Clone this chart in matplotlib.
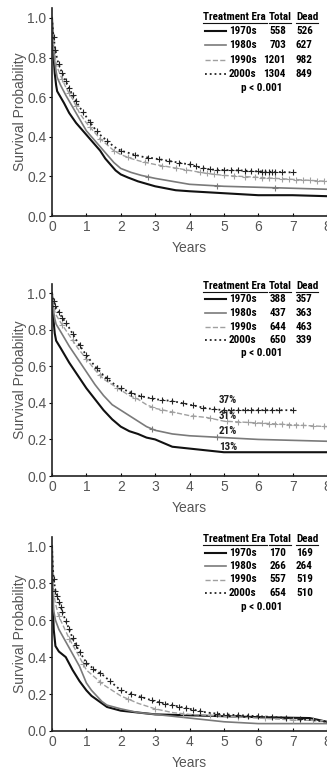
import matplotlib
matplotlib.use("Agg")
import matplotlib.pyplot as plt
from matplotlib.lines import Line2D
import numpy as np

plt.rcParams['font.family'] = ['Liberation Sans', 'DejaVu Sans']

eras = ['1970s', '1980s', '1990s', '2000s']

# ---- panel 1 ----
p1_total = [558, 703, 1201, 1304]
p1_dead = [526, 627, 982, 849]
p1_t = [
    [0, 0.03, 0.08, 0.12, 0.15, 0.25, 0.35, 0.5, 0.7, 0.85, 1.0, 1.2, 1.4, 1.55, 1.7, 1.85, 2.0, 2.2, 2.5, 2.8, 3.0, 3.3, 3.6, 4.0, 4.5, 5.0, 5.5, 6.0, 7.0, 8.0],
    [0, 0.03, 0.08, 0.12, 0.15, 0.25, 0.4, 0.6, 0.8, 1.0, 1.2, 1.4, 1.6, 1.8, 2.0, 2.3, 2.6, 3.0, 3.5, 4.0, 4.5, 5.0, 6.0, 7.0, 8.0],
    [0, 0.03, 0.08, 0.12, 0.15, 0.25, 0.4, 0.6, 0.8, 1.0, 1.2, 1.4, 1.6, 1.8, 2.0, 2.3, 2.6, 3.0, 3.5, 4.0, 4.5, 5.0, 5.5, 6.0, 7.0, 8.0],
    [0, 0.03, 0.08, 0.12, 0.15, 0.25, 0.4, 0.6, 0.8, 1.0, 1.2, 1.4, 1.6, 1.8, 2.0, 2.3, 2.6, 3.0, 3.5, 4.0, 4.3, 4.6, 5.0, 5.5, 6.0, 7.0],
]
p1_s = [
    [1.0, 0.85, 0.72, 0.66, 0.63, 0.60, 0.57, 0.52, 0.47, 0.44, 0.41, 0.37, 0.33, 0.29, 0.26, 0.23, 0.21, 0.195, 0.175, 0.16, 0.15, 0.14, 0.13, 0.125, 0.12, 0.115, 0.11, 0.105, 0.105, 0.10],
    [1.0, 0.88, 0.78, 0.73, 0.70, 0.66, 0.61, 0.55, 0.49, 0.43, 0.39, 0.35, 0.31, 0.27, 0.24, 0.22, 0.205, 0.19, 0.175, 0.16, 0.155, 0.15, 0.145, 0.14, 0.135],
    [1.0, 0.90, 0.82, 0.77, 0.75, 0.71, 0.65, 0.59, 0.52, 0.47, 0.43, 0.39, 0.36, 0.33, 0.31, 0.29, 0.275, 0.26, 0.245, 0.23, 0.215, 0.205, 0.20, 0.195, 0.185, 0.175],
    [1.0, 0.93, 0.86, 0.82, 0.79, 0.74, 0.68, 0.61, 0.55, 0.50, 0.45, 0.41, 0.38, 0.35, 0.33, 0.315, 0.30, 0.29, 0.275, 0.26, 0.245, 0.235, 0.232, 0.23, 0.225, 0.22],
]
p1_cens = [
    [],
    [2.8, 4.8, 6.5],
    [0.3, 0.5, 0.7, 1.1, 1.4, 1.8, 2.2, 2.7, 3.2, 3.6, 3.9, 4.3, 4.5, 4.7, 5.0, 5.3, 5.6, 5.9, 6.1, 6.3, 6.5, 6.7, 6.9, 7.1, 7.3, 7.5, 7.7, 7.9],
    [0.05, 0.1, 0.2, 0.3, 0.4, 0.5, 0.6, 0.7, 0.9, 1.1, 1.3, 1.6, 2.0, 2.4, 2.8, 3.1, 3.4, 3.7, 4.0, 4.2, 4.4, 4.6, 4.8, 5.0, 5.2, 5.4, 5.6, 5.8, 6.0, 6.1, 6.2, 6.3, 6.4, 6.5, 6.7, 7.0],
]

# ---- panel 2 ----
p2_total = [388, 437, 644, 650]
p2_dead = [357, 363, 463, 339]
p2_t = [
    [0, 0.03, 0.08, 0.12, 0.25, 0.5, 0.75, 1.0, 1.25, 1.5, 1.75, 2.0, 2.25, 2.5, 2.75, 3.0, 3.25, 3.5, 4.0, 4.5, 5.0, 6.0, 8.0],
    [0, 0.03, 0.08, 0.12, 0.25, 0.5, 0.75, 1.0, 1.25, 1.5, 1.75, 2.0, 2.25, 2.5, 2.75, 3.0, 3.5, 4.0, 5.0, 6.0, 7.0, 8.0],
    [0, 0.03, 0.08, 0.12, 0.25, 0.5, 0.75, 1.0, 1.25, 1.5, 1.75, 2.0, 2.25, 2.5, 2.75, 3.0, 3.5, 4.0, 4.5, 5.0, 6.0, 7.0, 8.0],
    [0, 0.03, 0.08, 0.12, 0.25, 0.5, 0.75, 1.0, 1.25, 1.5, 1.75, 2.0, 2.25, 2.5, 2.75, 3.0, 3.5, 4.0, 4.5, 5.0, 6.0, 7.0],
]
p2_s = [
    [1.0, 0.88, 0.78, 0.74, 0.70, 0.62, 0.55, 0.48, 0.42, 0.36, 0.31, 0.27, 0.245, 0.23, 0.21, 0.20, 0.18, 0.16, 0.15, 0.14, 0.13, 0.13, 0.13],
    [1.0, 0.92, 0.86, 0.83, 0.79, 0.71, 0.64, 0.57, 0.50, 0.44, 0.39, 0.36, 0.33, 0.30, 0.27, 0.25, 0.23, 0.22, 0.21, 0.20, 0.195, 0.19],
    [1.0, 0.95, 0.90, 0.88, 0.84, 0.77, 0.70, 0.64, 0.58, 0.53, 0.50, 0.47, 0.44, 0.42, 0.39, 0.37, 0.35, 0.33, 0.32, 0.30, 0.29, 0.28, 0.27],
    [1.0, 0.97, 0.94, 0.92, 0.88, 0.81, 0.73, 0.66, 0.60, 0.55, 0.51, 0.48, 0.46, 0.44, 0.43, 0.42, 0.41, 0.39, 0.37, 0.36, 0.36, 0.36],
]
p2_cens = [
    [],
    [2.9, 4.8],
    [0.3, 0.6, 1.0, 1.4, 1.9, 2.4, 2.9, 3.2, 3.5, 4.1, 4.6, 5.1, 5.4, 5.7, 5.9, 6.1, 6.3, 6.5, 6.7, 6.9, 7.1, 7.3, 7.6, 7.9],
    [0.05, 0.1, 0.2, 0.3, 0.4, 0.6, 0.8, 1.0, 1.3, 1.6, 2.0, 2.3, 2.6, 2.9, 3.2, 3.5, 3.8, 4.1, 4.4, 4.7, 5.0, 5.2, 5.4, 5.6, 5.8, 6.0, 6.2, 6.4, 6.6, 7.0],
]
p2_pct = ['13%', '21%', '31%', '37%']
p2_pct_y = [0.16, 0.245, 0.33, 0.415]

# ---- panel 3 ----
p3_total = [170, 266, 557, 654]
p3_dead = [169, 264, 519, 510]
p3_t = [
    [0, 0.02, 0.05, 0.1, 0.2, 0.4, 0.6, 0.8, 1.0, 1.15, 1.3, 1.45, 1.6, 1.8, 2.0, 2.5, 3.0, 4.0, 5.0, 6.0, 7.5, 8.0],
    [0, 0.02, 0.05, 0.1, 0.2, 0.35, 0.5, 0.65, 0.8, 1.0, 1.15, 1.3, 1.45, 1.6, 1.8, 2.0, 2.5, 3.0, 4.0, 5.0, 6.0, 8.0],
    [0, 0.02, 0.05, 0.1, 0.2, 0.35, 0.5, 0.65, 0.8, 1.0, 1.25, 1.5, 1.75, 2.0, 2.5, 3.0, 3.5, 4.0, 5.0, 6.0, 7.0, 8.0],
    [0, 0.02, 0.05, 0.1, 0.2, 0.35, 0.5, 0.65, 0.8, 1.0, 1.25, 1.5, 1.75, 2.0, 2.5, 3.0, 3.5, 4.0, 4.5, 5.0, 6.0, 7.0, 7.5, 8.0],
]
p3_s = [
    [1.0, 0.70, 0.55, 0.46, 0.43, 0.40, 0.33, 0.27, 0.22, 0.19, 0.17, 0.15, 0.13, 0.12, 0.11, 0.10, 0.09, 0.085, 0.08, 0.075, 0.07, 0.05],
    [1.0, 0.78, 0.65, 0.60, 0.55, 0.50, 0.45, 0.40, 0.35, 0.26, 0.22, 0.19, 0.16, 0.14, 0.13, 0.12, 0.10, 0.09, 0.07, 0.05, 0.04, 0.04],
    [1.0, 0.85, 0.75, 0.69, 0.62, 0.56, 0.50, 0.45, 0.40, 0.33, 0.29, 0.25, 0.22, 0.19, 0.15, 0.12, 0.10, 0.09, 0.08, 0.07, 0.06, 0.055],
    [1.0, 0.90, 0.82, 0.76, 0.70, 0.62, 0.55, 0.48, 0.43, 0.37, 0.33, 0.30, 0.26, 0.22, 0.19, 0.16, 0.14, 0.12, 0.10, 0.09, 0.08, 0.07, 0.06, 0.05],
]
p3_cens = [
    [],
    [],
    [0.2, 0.5, 0.9, 1.4, 2.2, 3.0, 3.8, 4.6, 5.4, 6.2, 7.0, 7.6],
    [0.05, 0.1, 0.15, 0.2, 0.25, 0.3, 0.4, 0.5, 0.6, 0.7, 0.8, 1.0, 1.2, 1.4, 1.7, 2.0, 2.3, 2.6, 2.9, 3.1, 3.3, 3.5, 3.7, 3.9, 4.1, 4.3, 4.8, 5.1, 5.4, 5.7, 6.0, 6.4, 6.8, 7.2],
]

colors = ['#111111', '#7a7a7a', '#a0a0a0', '#222222']
styles = ['-', '-', '--', ':']
widths = [1.5, 1.2, 1.0, 1.3]

W, H = 327, 771
fig = plt.figure(figsize=(W / 100, H / 100), dpi=100)


def fx(px):
    return px / W


def fy(py):
    return 1 - py / H


panels = [
    (p1_t, p1_s, p1_cens, p1_total, p1_dead, 8, 216, 17),
    (p2_t, p2_s, p2_cens, p2_total, p2_dead, 284, 476, 286),
    (p3_t, p3_s, p3_cens, p3_total, p3_dead, 537, 731, 539),
]

gray = '#555555'
cond = ['Roboto Condensed', 'Liberation Sans', 'DejaVu Sans']

for k, (T, S, C, tot, dead, top, bot, hy) in enumerate(panels):
    ax = fig.add_axes([fx(52), fy(bot), 1 - fx(52), (bot - top) / H])
    for i in range(4):
        t = np.array(T[i])
        s = np.array(S[i])
        ax.plot(t, s, color=colors[i], ls=styles[i], lw=widths[i])
        if C[i]:
            c = np.array(C[i])
            ax.plot(c, np.interp(c, t, s), ls='none', marker='+', ms=4,
                    mew=0.8, color=colors[i])
    ax.set_xlim(0, 8)
    ax.set_ylim(0, 1.05)
    ax.set_xticks(range(9))
    ax.set_yticks([0, 0.2, 0.4, 0.6, 0.8, 1.0])
    ax.set_yticklabels(['0.0', '0.2', '0.4', '0.6', '0.8', '1.0'])
    ax.spines['top'].set_visible(False)
    ax.spines['right'].set_visible(False)
    for sp in ['left', 'bottom']:
        ax.spines[sp].set_linewidth(1.2)
        ax.spines[sp].set_color('#222222')
    ax.tick_params(axis='x', direction='in', length=2, labelsize=10,
                   labelcolor=gray, pad=3)
    ax.tick_params(axis='y', direction='out', length=2, labelsize=10,
                   labelcolor=gray, pad=2)
    ax.set_ylabel('Survival Probability', fontsize=10, color=gray, labelpad=0)
    ax.set_xlabel('Years', fontsize=10, color=gray, labelpad=5)

    if k == 1:
        for i in range(4):
            ax.text(4.85, p2_pct_y[i], p2_pct[i], fontsize=8, fontweight='bold',
                    family=cond, color='#222222', va='center', ha='left')

    # table legend
    fs = 8
    fig.text(fx(203), fy(hy), 'Treatment Era', fontsize=fs, fontweight='bold',
             family=cond, va='center', ha='left')
    fig.text(fx(269), fy(hy), 'Total', fontsize=fs, fontweight='bold',
             family=cond, va='center', ha='left')
    fig.text(fx(296), fy(hy), 'Dead', fontsize=fs, fontweight='bold',
             family=cond, va='center', ha='left')
    for x0, x1 in [(203, 267), (269, 291), (296, 318)]:
        fig.add_artist(Line2D([fx(x0), fx(x1)], [fy(hy + 6), fy(hy + 6)],
                              color='#111111', lw=0.8))
    row_dy = (14.2 if k == 0 else 13.5)
    for i in range(4):
        ry = hy + row_dy * (i + 1)
        fig.add_artist(Line2D([fx(205), fx(226)], [fy(ry), fy(ry)],
                              color=colors[i], ls=styles[i], lw=widths[i]))
        fig.text(fx(229), fy(ry), eras[i], fontsize=fs, fontweight='bold',
                 family=cond, va='center', ha='left')
        fig.text(fx(286), fy(ry), str(tot[i]), fontsize=fs, fontweight='bold',
                 family=cond, va='center', ha='right')
        fig.text(fx(296), fy(ry), str(dead[i]), fontsize=fs, fontweight='bold',
                 family=cond, va='center', ha='left')
    fig.text(fx(262), fy(hy + row_dy * 5), 'p < 0.001', fontsize=fs,
             fontweight='bold', family=cond, va='center', ha='center')

fig.savefig('out.png', dpi=100)
